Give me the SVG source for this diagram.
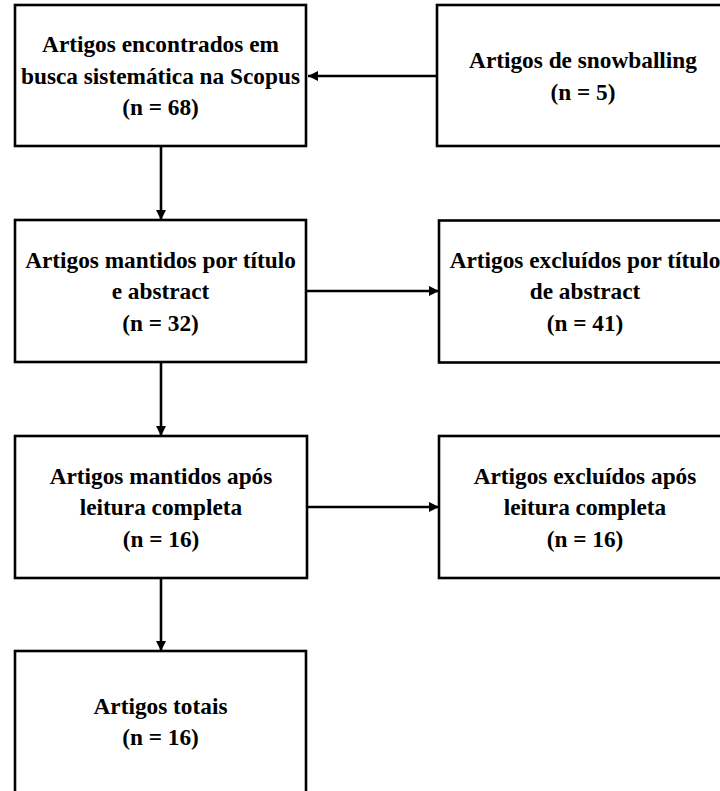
<svg xmlns="http://www.w3.org/2000/svg" width="720" height="791" viewBox="0 0 720 791">
<style>
.box{fill:#fff;stroke:#000;stroke-width:2.6}
.t{font-family:"Liberation Serif","Times New Roman",serif;font-weight:bold;font-size:23.3px;fill:#000;text-anchor:middle}
.c{stroke:#000;stroke-width:2.6;fill:none;marker-end:url(#ah)}
</style>
<defs>
<marker id="ah" markerUnits="userSpaceOnUse" markerWidth="10" markerHeight="10" viewBox="0 0 10 10" refX="10" refY="5" orient="auto">
<path d="M0,0 L10,5 L0,10 Z" fill="#000"/>
</marker>
</defs>
<rect width="720" height="791" fill="#fff"/>
<g id="connectors">
<path class="c" d="M437,76 H308"/>
<path class="c" d="M161,146 V220"/>
<path class="c" d="M306,291 H439"/>
<path class="c" d="M161,362 V436"/>
<path class="c" d="M306,507 H439"/>
<path class="c" d="M161,578 V651"/>
</g>
<g id="n1">
<rect class="box" x="15" y="5" width="291" height="141"/>
<text class="t" x="160.5" y="52">Artigos encontrados em</text>
<text class="t" x="160.5" y="83.5">busca sistemática na Scopus</text>
<text class="t" x="160.5" y="115">(n = 68)</text>
</g>
<g id="n2">
<rect class="box" x="437" y="5" width="292" height="141"/>
<text class="t" x="583" y="68">Artigos de snowballing</text>
<text class="t" x="583" y="99.5">(n = 5)</text>
</g>
<g id="n3">
<rect class="box" x="15" y="220" width="291" height="142"/>
<text class="t" x="160.5" y="267.5">Artigos mantidos por título</text>
<text class="t" x="160.5" y="299">e abstract</text>
<text class="t" x="160.5" y="330.5">(n = 32)</text>
</g>
<g id="n4">
<rect class="box" x="439" y="220.5" width="292" height="142"/>
<text class="t" x="585" y="267.5">Artigos excluídos por título</text>
<text class="t" x="585" y="299">de abstract</text>
<text class="t" x="585" y="330.5">(n = 41)</text>
</g>
<g id="n5">
<rect class="box" x="15" y="436" width="292" height="142"/>
<text class="t" x="161" y="483.5">Artigos mantidos após</text>
<text class="t" x="161" y="515">leitura completa</text>
<text class="t" x="161" y="546.5">(n = 16)</text>
</g>
<g id="n6">
<rect class="box" x="439" y="436" width="292" height="142"/>
<text class="t" x="585" y="483.5">Artigos excluídos após</text>
<text class="t" x="585" y="515">leitura completa</text>
<text class="t" x="585" y="546.5">(n = 16)</text>
</g>
<g id="n7">
<rect class="box" x="15" y="651" width="291" height="142"/>
<text class="t" x="160.5" y="713.5">Artigos totais</text>
<text class="t" x="160.5" y="745">(n = 16)</text>
</g>
</svg>
